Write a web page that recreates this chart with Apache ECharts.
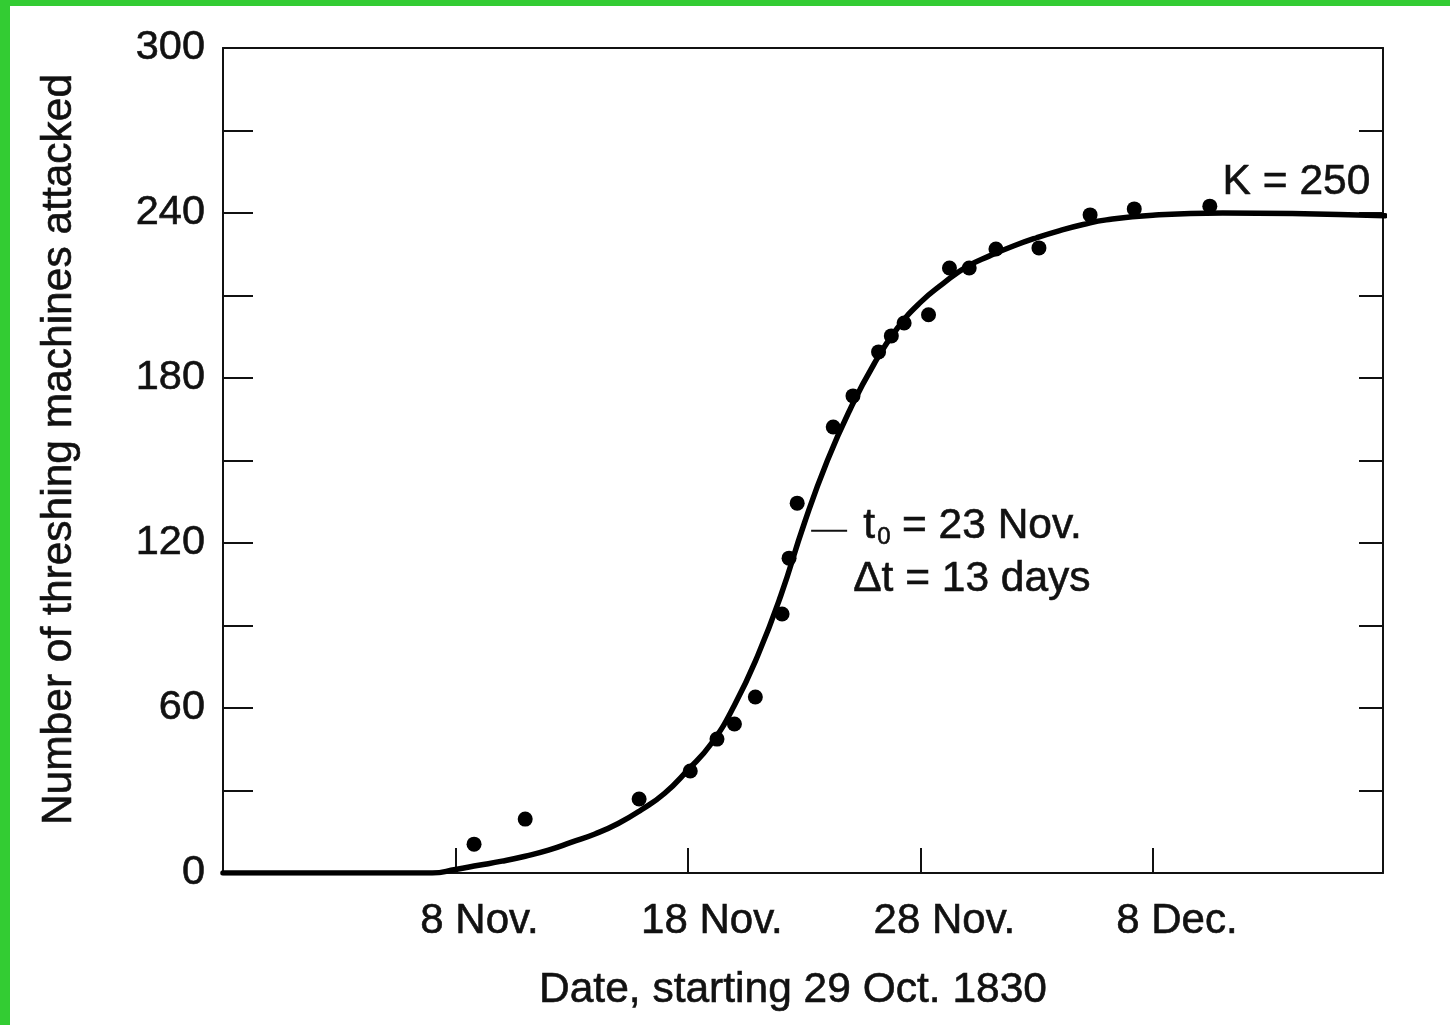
<!DOCTYPE html>
<html>
<head>
<meta charset="utf-8">
<script src="https://cdn.jsdelivr.net/npm/echarts@6/dist/echarts.min.js"></script>
<style>
  html, body { margin: 0; padding: 0; background: #fff; }
  #wrap { position: relative; width: 1450px; height: 1025px; background: #fff; overflow: hidden; }
  #chart { position: absolute; left: 0; top: 0; width: 1450px; height: 1025px; }
  .bar-left { position: absolute; left: 0; top: 0; width: 10px; height: 1025px; background: #33cc33; }
  .bar-top { position: absolute; left: 0; top: 0; width: 1450px; height: 6px; background: #33cc33; }
</style>
</head>
<body>
<div id="wrap">
  <div id="chart"></div>
  <div class="bar-left"></div>
  <div class="bar-top"></div>
</div>
<script>
// ---- data (days counted from 29 Oct. 1830) ----
var xTickValues = [10, 20, 30, 40];
var xTickLabels = ['8 Nov.', '18 Nov.', '28 Nov.', '8 Dec.'];
var yTickValues = [0, 60, 120, 180, 240, 300];

// observed points: day, machines attacked
var obsDays = [10.8, 13.0, 17.9, 20.1, 21.25, 22.0, 22.9, 24.05, 24.35, 24.7, 26.25, 27.1, 28.2, 28.75, 29.3, 30.35, 31.25, 32.1, 33.25, 35.1, 37.3, 39.2, 42.45];
var obsValues = [10.5, 19.6, 26.9, 37.1, 48.7, 54.2, 64, 94.2, 114.5, 134.5, 162.2, 173.5, 189.5, 195.3, 200, 203, 220, 220, 226.9, 227.3, 239.3, 241.5, 242.5];

// fitted logistic curve
var curveDays = [0, 5, 9, 10, 11, 12, 13, 14, 15, 16, 17, 18, 19, 20, 21, 22, 23, 24, 25, 26, 27, 28, 29, 30, 31, 32, 33, 34, 35, 36, 37, 38, 40, 43, 46, 50];
var curveValues = [0, 0, 0, 1.3, 2.8, 4.3, 6.1, 8.3, 11.2, 14.2, 18, 23, 29, 37.5, 47, 61, 79, 101, 127, 150, 169, 185, 198, 207.5, 214.5, 220.5, 224.5, 228, 231, 233.6, 235.8, 237.5, 239.2, 240, 239.8, 239];

var FONT = '"Liberation Sans", Arial, Helvetica, sans-serif';
var INK = '#111';

function pairs(xs, ys) { return xs.map(function (x, i) { return [x, ys[i]]; }); }

var chart = echarts.init(document.getElementById('chart'), null, { renderer: 'canvas' });

var axLine = { color: INK, width: 2 };
var heavy = { textBorderColor: INK, textBorderWidth: 0.6 };
var option = {
  backgroundColor: '#fff',
  animation: false,
  grid: { left: 223, top: 48, width: 1160, height: 825, show: false },
  xAxis: [{
    type: 'value', position: 'bottom', min: 0, max: 49.9, interval: 10,
    axisLine: { show: true, onZero: false, lineStyle: axLine },
    axisTick: { show: true, inside: true, length: 25, lineStyle: axLine },
    splitLine: { show: false },
    axisLabel: Object.assign({
      show: true, margin: 27, fontFamily: FONT, fontSize: 42, color: INK,
      lineHeight: 42, padding: [0, 0, 0, 48],
      showMinLabel: false, showMaxLabel: false,
      formatter: function (v) { var i = xTickValues.indexOf(v); return i >= 0 ? xTickLabels[i] : ''; }
    }, heavy),
    name: 'Date, starting 29 Oct. 1830', nameLocation: 'middle', nameGap: 96,
    nameTextStyle: Object.assign({ fontFamily: FONT, fontSize: 42.5, color: INK, padding: [0, 20, 0, 0] }, heavy)
  }, {
    type: 'value', position: 'top', min: 0, max: 49.9, interval: 10,
    axisLine: { show: true, onZero: false, lineStyle: axLine },
    axisTick: { show: false }, axisLabel: { show: false }, splitLine: { show: false }
  }],
  yAxis: [{
    type: 'value', position: 'left', min: 0, max: 300, interval: 30,
    axisLine: { show: true, onZero: false, lineStyle: axLine },
    axisTick: { show: true, inside: true, length: 30, lineStyle: axLine },
    splitLine: { show: false },
    axisLabel: Object.assign({
      show: true, margin: 18, fontFamily: FONT, fontSize: 41.5, color: INK,
      formatter: function (v) { return yTickValues.indexOf(v) >= 0 ? String(v) : ''; }
    }, heavy),
    name: 'Number of threshing machines attacked', nameLocation: 'middle', nameGap: 142,
    nameTextStyle: Object.assign({ fontFamily: FONT, fontSize: 42.5, color: INK, padding: [0, 0, 0, 22] }, heavy)
  }, {
    type: 'value', position: 'right', min: 0, max: 300, interval: 30,
    axisLine: { show: true, onZero: false, lineStyle: axLine },
    axisTick: { show: true, inside: true, length: 24, lineStyle: axLine },
    axisLabel: { show: false }, splitLine: { show: false }
  }],
  series: [{
    type: 'line', name: 'fit', xAxisIndex: 0, yAxisIndex: 0,
    data: pairs(curveDays, curveValues),
    smooth: 0.5, showSymbol: false, symbol: 'none',
    lineStyle: { color: '#000', width: 5.5, join: 'round', cap: 'round' }, z: 3
  }, {
    type: 'scatter', name: 'observed', xAxisIndex: 0, yAxisIndex: 0,
    data: pairs(obsDays, obsValues),
    symbol: 'circle', symbolSize: 15,
    itemStyle: { color: '#000', opacity: 1 }, z: 4
  }]
};
chart.setOption(option);

// annotations anchored in data space
function px(d, v) { return chart.convertToPixel({ gridIndex: 0 }, [d, v]); }
var kAnchor = px(43.0, 251);     // start of "K = 250"
var tAnchor = px(25.3, 124.5);   // start of leader line to t0 text
var TX = tAnchor[0], TY = tAnchor[1];
function txt(x, y, s, size) {
  return { type: 'text', x: x, y: y, style: { text: s, font: size + 'px ' + FONT, fill: INK, stroke: INK, lineWidth: 0.6, align: 'left', verticalAlign: 'middle' } };
}

chart.setOption({
  graphic: [
    txt(kAnchor[0], kAnchor[1], 'K = 250', 42.5),
    { type: 'line', shape: { x1: TX, y1: TY, x2: TX + 36, y2: TY }, style: { stroke: INK, lineWidth: 2 } },
    txt(TX + 52, TY - 4, 't', 42.5),
    txt(TX + 66, TY + 7, '0', 24),
    txt(TX + 79, TY - 4, ' = 23 Nov.', 42.5),
    txt(TX + 42, TY + 49, '\u0394t = 13 days', 42.5)
  ]
});
</script>
</body>
</html>
